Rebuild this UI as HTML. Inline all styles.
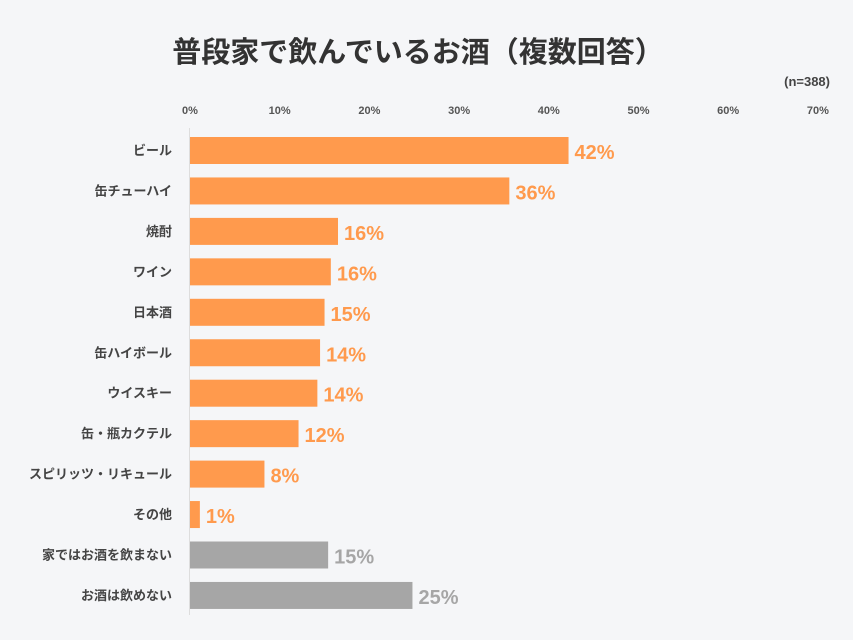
<!DOCTYPE html>
<html><head><meta charset="utf-8"><style>
body{margin:0;background:#f5f6f8;font-family:"Liberation Sans","Noto Sans CJK JP",sans-serif;}
svg{display:block}
</style></head><body>
<svg width="853" height="640" xmlns="http://www.w3.org/2000/svg">
<rect width="853" height="640" fill="#f5f6f8"/>
<text x="418" y="62" text-anchor="middle" font-size="29" font-weight="bold" fill="#333" font-family="'Noto Sans CJK JP',sans-serif">普段家で飲んでいるお酒（複数回答）</text>
<text x="830" y="86" text-anchor="end" font-size="13" font-weight="bold" fill="#444">(n=388)</text>
<line x1="189.5" y1="128" x2="189.5" y2="615" stroke="#ddd" stroke-width="1"/>
<g id="ticks"></g><g id="bars"></g>
</svg>
<script>
const categories=["ビール","缶チューハイ","焼酎","ワイン","日本酒","缶ハイボール","ウイスキー","缶・瓶カクテル","スピリッツ・リキュール","その他","家ではお酒を飲まない","お酒は飲めない"];
const values=[42.2,35.6,16.5,15.7,15.0,14.5,14.2,12.1,8.3,1.1,15.4,24.8];
const valueLabels=["42%","36%","16%","16%","15%","14%","14%","12%","8%","1%","15%","25%"];
const tickValues=[0,10,20,30,40,50,60,70];
const NS="http://www.w3.org/2000/svg";
const x=v=>190+v*8.97;
const yRow=i=>137+i*40.45;
const tg=document.getElementById('ticks'),bg=document.getElementById('bars');
tickValues.forEach(t=>{
 const e=document.createElementNS(NS,'text');
 
 
 e.setAttribute('x',x(t));e.setAttribute('y',114);e.setAttribute('text-anchor','middle');
 e.setAttribute('font-size','11');e.setAttribute('font-weight','bold');e.setAttribute('fill','#555');
 e.textContent=t+'%';tg.appendChild(e);
});
categories.forEach((c,i)=>{
 const gray=i>=10, col=gray?'#a6a6a6':'#ff9a4d';
 const y=yRow(i);
 const r=document.createElementNS(NS,'rect');
 
 
 r.setAttribute('x',190);r.setAttribute('y',y);r.setAttribute('width',x(values[i])-190);r.setAttribute('height',27);r.setAttribute('fill',col);
 bg.appendChild(r);
 const l=document.createElementNS(NS,'text');
 
 
 l.setAttribute('x',172);l.setAttribute('y',y+18);l.setAttribute('text-anchor','end');
 l.setAttribute('font-size','13');l.setAttribute('font-weight','bold');l.setAttribute('fill','#444');
 l.setAttribute('font-family',"'Noto Sans CJK JP',sans-serif");
 l.textContent=c;bg.appendChild(l);
 const v=document.createElementNS(NS,'text');
 
 
 v.setAttribute('x',x(values[i])+6);v.setAttribute('y',y+22);
 v.setAttribute('font-size','20');v.setAttribute('font-weight','bold');v.setAttribute('fill',col);
 v.textContent=valueLabels[i];bg.appendChild(v);
});
</script>
</body></html>
